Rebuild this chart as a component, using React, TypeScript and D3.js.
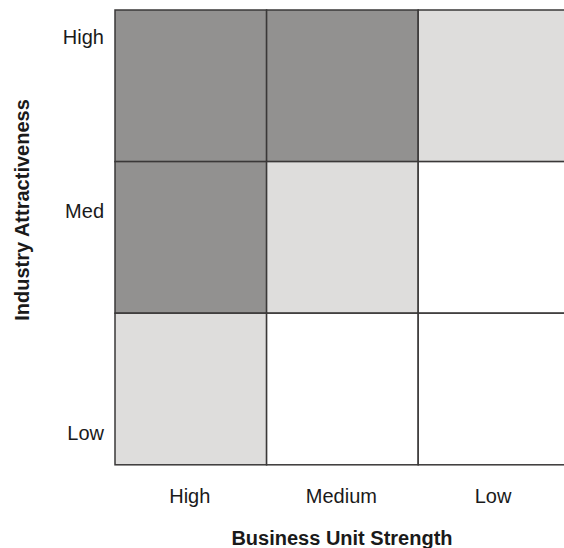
import React from "react";
import * as d3 from "d3";

const strengthLevels = ["High", "Medium", "Low"];
const attractLevels = ["High", "Med", "Low"];
// shade level per cell: row = attractiveness, col = strength (2 = dark, 1 = light, 0 = white)
const shadeHigh = [2, 2, 1];
const shadeMed = [2, 1, 0];
const shadeLow = [1, 0, 0];
const shadeRows = [shadeHigh, shadeMed, shadeLow];
const shadeColors = ["#ffffff", "#dedddc", "#929190"];

const xTitle = "Business Unit Strength";
const yTitle = "Industry Attractiveness";

export default function App() {
  const W = 564, H = 548;
  const left = 115, top = 10, cell = 151.6;
  const x = d3.scaleBand<string>().domain(strengthLevels).range([left, left + 3 * cell]);
  const y = d3.scaleBand<string>().domain(attractLevels).range([top, top + 3 * cell]);
  const font = "'Liberation Sans', Arial, sans-serif";
  const yLabelPos: Record<string, number> = { High: 44, Med: 218, Low: 440 };

  return (
    <svg width={W} height={H} style={{ position: "absolute", left: 0, top: 0, background: "#fff" }} fontFamily={font}>
      {attractLevels.map((a, r) =>
        strengthLevels.map((s, c) => (
          <rect key={a + s} x={x(s)} y={y(a)} width={x.bandwidth()} height={y.bandwidth()}
            fill={shadeColors[shadeRows[r][c]]} stroke="#3a3838" strokeWidth={1.5} />
        ))
      )}
      {attractLevels.map((a) => (
        <text key={a} x={104} y={yLabelPos[a]} textAnchor="end" fontSize={20} fill="#1a1a1a">{a}</text>
      ))}
      {strengthLevels.map((s) => (
        <text key={s} x={(x(s) as number) + x.bandwidth() / 2 - 1} y={503} textAnchor="middle" fontSize={20} fill="#1a1a1a">{s}</text>
      ))}
      <text x={342} y={545} textAnchor="middle" fontSize={20} fontWeight="bold" fill="#1a1a1a">{xTitle}</text>
      <text transform="translate(29,210) rotate(-90)" textAnchor="middle" fontSize={20} fontWeight="bold" fill="#1a1a1a">{yTitle}</text>
    </svg>
  );
}
